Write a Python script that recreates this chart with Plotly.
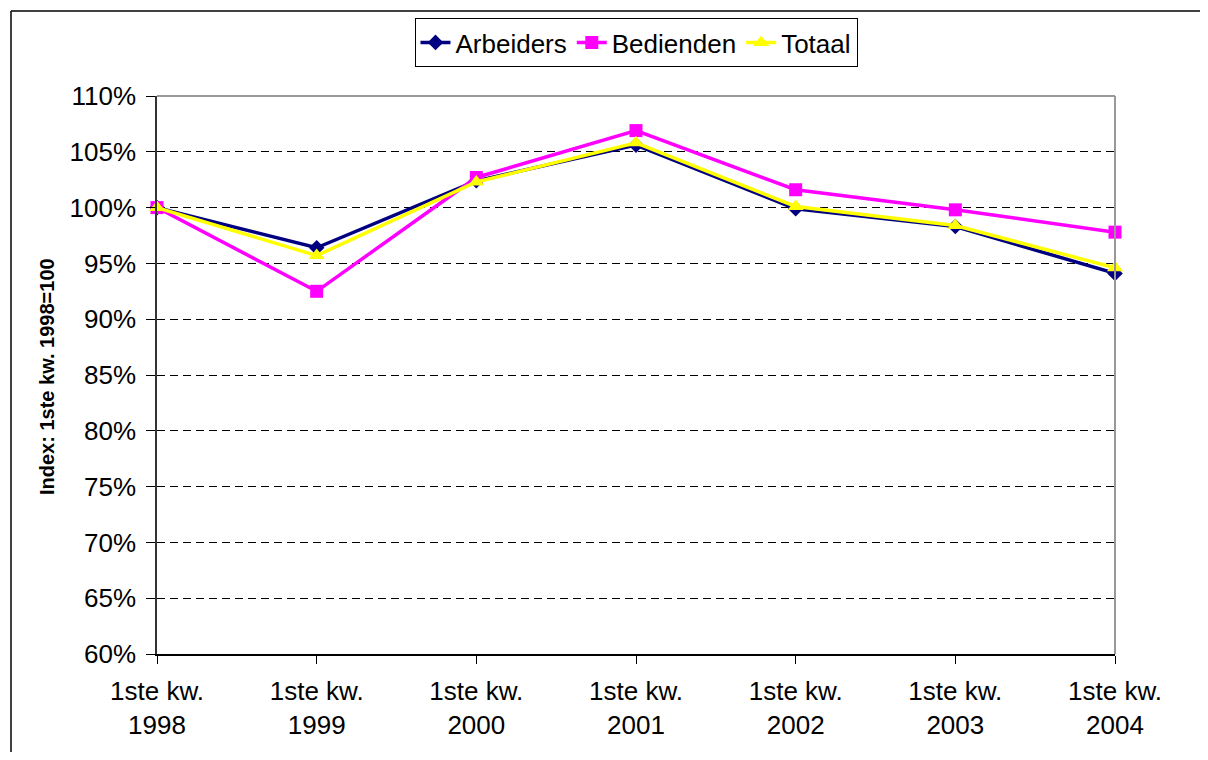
import plotly.graph_objects as go

categories = ["1ste kw.<br>1998", "1ste kw.<br>1999", "1ste kw.<br>2000", "1ste kw.<br>2001",
              "1ste kw.<br>2002", "1ste kw.<br>2003", "1ste kw.<br>2004"]
arbeiders = [100.0, 96.4, 102.4, 105.6, 99.9, 98.3, 94.1]
bedienden = [100.0, 92.5, 102.7, 106.9, 101.6, 99.8, 97.8]
totaal = [100.0, 95.7, 102.3, 105.8, 100.1, 98.4, 94.6]
y_ticks = [60, 65, 70, 75, 80, 85, 90, 95, 100, 105, 110]
y_ticktext = [f"{v}%" for v in y_ticks]

OFF = 8  # page body margin
W, H = 1208 - 2 * OFF, 760 - 2 * OFF
L, R, T, B = 157 - OFF, 1115 - OFF, 96 - OFF, 654 - OFF
pw, ph = R - L, B - T

def px(xp):
    return (xp - OFF - L) / pw

def py(yp):
    return (B - (yp - OFF)) / ph

fig = go.Figure()
fig.add_trace(go.Scatter(x=categories, y=arbeiders, name="Arbeiders", mode="lines+markers",
                         line=dict(color="#000080", width=3.5),
                         marker=dict(symbol="diamond", size=12, color="#000080"),
                         cliponaxis=False))
fig.add_trace(go.Scatter(x=categories, y=bedienden, name="Bedienden", mode="lines+markers",
                         line=dict(color="#FF00FF", width=3.5),
                         marker=dict(symbol="square", size=13, color="#FF00FF"),
                         cliponaxis=False))
fig.add_trace(go.Scatter(x=categories, y=totaal, name="Totaal", mode="lines+markers",
                         line=dict(color="#FFFF00", width=3.5),
                         marker=dict(symbol="triangle-up", size=14, color="#FFFF00"),
                         cliponaxis=False))

font = "Arial, Liberation Sans, sans-serif"

fig.update_layout(
    width=W, height=H,
    margin=dict(l=L, r=W - R, t=T, b=H - B, pad=0, autoexpand=False),
    paper_bgcolor="white", plot_bgcolor="white",
    font=dict(family=font, size=26, color="black"),
    showlegend=True,
    legend=dict(orientation="h", x=0.5, xanchor="center", y=py(18), yanchor="top",
                bordercolor="black", borderwidth=1, bgcolor="white",
                font=dict(size=26), itemwidth=30, tracegroupgap=0),
    xaxis=dict(type="category", range=[0, 6], showgrid=False, zeroline=False,
               showline=True, linecolor="black", linewidth=1.5, automargin=False,
               ticks="outside", ticklen=8, tickcolor="black", tickwidth=1,
               ticklabelstandoff=5, tickfont=dict(size=26)),
    yaxis=dict(range=[60, 110], tickvals=y_ticks, ticktext=y_ticktext, automargin=False,
               showgrid=True, gridcolor="black", griddash="8px,5px", gridwidth=1,
               zeroline=False, showline=True, linecolor="#333333", linewidth=1.5,
               ticks="outside", ticklen=9, tickcolor="black", tickwidth=1,
               ticklabelstandoff=5, tickfont=dict(size=26)),
    shapes=[
        dict(type="line", xref="paper", yref="paper", x0=0, x1=1, y0=1, y1=1,
             line=dict(color="#999999", width=2), layer="above"),
        dict(type="line", xref="paper", yref="paper", x0=1, x1=1, y0=0, y1=1,
             line=dict(color="#999999", width=2), layer="above"),
        dict(type="line", xref="paper", yref="paper", x0=px(11), x1=px(1208), y0=py(11), y1=py(11),
             line=dict(color="black", width=1.5)),
        dict(type="line", xref="paper", yref="paper", x0=px(11), x1=px(11), y0=py(11), y1=py(760),
             line=dict(color="black", width=1.5)),
    ],
    annotations=[
        dict(text="<b>Index: 1ste kw. 1998=100</b>", xref="paper", yref="paper",
             x=px(47), y=py(377), xanchor="center", yanchor="middle", textangle=-90,
             showarrow=False, font=dict(size=20, family=font, color="black")),
    ],
)

fig.write_html("out.html")
